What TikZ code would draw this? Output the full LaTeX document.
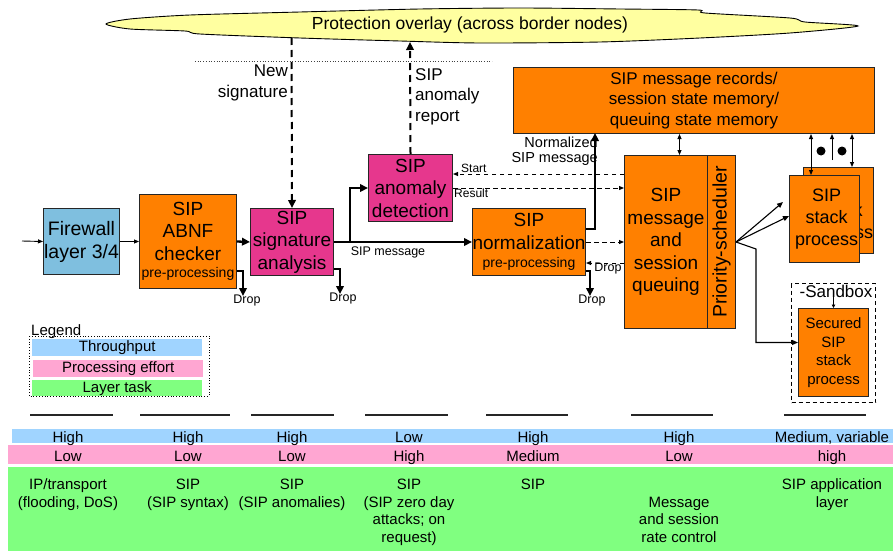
\documentclass[tikz,border=0pt]{standalone}
\usepackage{fontspec}
\setmainfont{Liberation Sans}
\usetikzlibrary{arrows.meta,calc}
\definecolor{orng}{HTML}{FF8000}
\definecolor{mag}{HTML}{E6378D}
\definecolor{fwblue}{HTML}{7FBFDF}
\definecolor{cloudy}{HTML}{FFFFA0}
\definecolor{tblue}{HTML}{A0D4FF}
\definecolor{tpink}{HTML}{FFA6D2}
\definecolor{tgreen}{HTML}{80FF80}
\newcommand\fA{\fontsize{19}{22.5}\selectfont}
\newcommand\fMem{\fontsize{17}{20.5}\selectfont}
\newcommand\fSt{\fontsize{18}{22}\selectfont}
\newcommand\fSec{\fontsize{15}{18.5}\selectfont}
\newcommand\fPre{\fontsize{14}{16}\selectfont}
\newcommand\fLab{\fontsize{17}{20.5}\selectfont}
\newcommand\fTab{\fontsize{15}{17.6}\selectfont}
\newcommand\fDrop{\fontsize{12.5}{14}\selectfont}
\newcommand\fTiny{\fontsize{12}{13}\selectfont}
\newcommand\fNorm{\fontsize{14.5}{15.5}\selectfont}
\newcommand\fCloud{\fontsize{17.5}{20}\selectfont}
\newcommand\fLeg{\fontsize{15}{17}\selectfont}
\begin{document}
\begin{tikzpicture}[x=1pt,y=-1pt,
  box/.style={draw=black!85, line width=1pt, inner sep=0pt, align=center, anchor=north west, font=\fA},
  thinarr/.style={line width=0.9pt, -{Triangle[length=5pt,width=4pt]}},
  medarr/.style={line width=1.1pt, -{Triangle[length=6pt,width=5pt]}},
  thickarr/.style={line width=2.3pt, -{Triangle[length=8pt,width=7.5pt]}},
  bigdash/.style={line width=2pt, dash pattern=on 7pt off 5pt},
  smalldash/.style={line width=1pt, dash pattern=on 4.5pt off 3.5pt, -{Triangle[length=5pt,width=4pt]}},
  txt/.style={inner sep=0pt, align=center}]
\useasboundingbox (0,0) rectangle (893,551);

% ---------- cloud ----------
\draw[fill=cloudy, line width=0.9pt, tension=0.45] plot[smooth cycle] coordinates {
 (106,24) (130,19) (190,15) (300,12) (420,9) (520,8) (620,9) (698,10) (705,13)
 (790,18) (805,22) (858,26) (790,33) (700,38) (600,42) (480,43) (400,41)
 (300,38) (200,34) (185,31) (130,29)};
\node[txt, font=\fCloud] (overlay) at (470,25) {Protection overlay (across border nodes)};
\coordinate (ovA) at (291.5,38);
\coordinate (ovB) at (410,42);
\coordinate (dotL) at (195,61);
\coordinate (dotR) at (492,61);
\draw[dotted, line width=0.7pt, black!75] (dotL) -- (dotR);

% ---------- boxes ----------
\node[box, fill=fwblue, minimum width=76pt, minimum height=66pt, font=\fontsize{19.5}{23}\selectfont] (fw) at (43,208) {Firewall\\layer 3/4};
\node[box, fill=orng, minimum width=97pt, minimum height=94pt] (abnf) at (139,194)
  {SIP\\ABNF\\checker\\[-5pt]{\fPre pre-processing}};
\node[box, fill=mag, minimum width=83pt, minimum height=67pt] (sig) at (250,208) {SIP\\signature\\analysis};
\node[box, fill=mag, minimum width=84pt, minimum height=67pt] (anom) at (368,154) {SIP\\anomaly\\detection};
\node[box, fill=orng, minimum width=110pt, minimum height=67pt] (norm) at (472,208)
  {SIP\\normalization\\[-4pt]{\fPre pre-processing}};
\node[box, fill=orng, minimum width=361pt, minimum height=66pt, font=\fMem] (mem) at (513,67)
  {SIP message records/\\session state memory/\\queuing state memory};
\node[box, fill=orng, minimum width=83pt, minimum height=173pt] (queue) at (624,155)
  {SIP\\message\\and\\session\\queuing};
\node[box, fill=orng, minimum width=28pt, minimum height=173pt] (sched) at (707,155) {};
\node[txt, rotate=90, font=\fontsize{19.5}{22}\selectfont] (schedt) at (sched.center) {Priority-scheduler};
\node[box, fill=orng, minimum width=70pt, minimum height=86pt, font=\fSt, text depth=0pt] (stackB) at (803,167)
  {\hspace*{6pt}SIP\\\hspace*{6pt}stack\\\hspace*{6pt}process};
\node[box, fill=orng, minimum width=70pt, minimum height=87pt, font=\fSt] (stackF) at (789,175)
  {\hspace*{4pt}SIP\\\hspace*{4pt}stack\\\hspace*{4pt}process};
\node[box, draw=black, fill=none, line width=1.2pt, dash pattern=on 4pt off 3pt,
  minimum width=84pt, minimum height=119pt] (sandbox) at (791,283) {};
\node[txt, font=\fLab] (sbl) at (836,291) {-Sandbox};
\node[box, fill=orng, minimum width=70pt, minimum height=88pt, font=\fSec] (secured) at (798,308)
  {Secured\\SIP\\stack\\process};

% ---------- connectors ----------
\coordinate (inL) at (22,241);
\draw[thinarr] (inL) -- (fw.west);
\draw[thinarr] (fw.east) -- (abnf.west);
\draw[thickarr] (abnf.east) -- (sig.west);
\draw[thickarr] (sig.east) -- (norm.west);
\node[txt, font=\fDrop] (sipmsg) at (388,252) {SIP message};
\coordinate (br) at (350,241.5);
\draw[thickarr] (br) |- (anom.west);

% drops
\coordinate (drop1) at (243,296);
\draw[thickarr] ($(abnf.south east)+(0,-18)$) -| (drop1);
\node[txt, font=\fDrop, anchor=north] (drop1l) at (247,295) {Drop};
\coordinate (drop2) at (340,294);
\draw[thickarr] ($(sig.south east)+(0,-7)$) -| (drop2);
\node[txt, font=\fDrop, anchor=north] (drop2l) at (343,293) {Drop};
\coordinate (drop3) at (590,296);
\draw[thickarr] ($(norm.south east)+(0,-5)$) -| (drop3);
\node[txt, font=\fDrop, anchor=north] (drop3l) at (592,295) {Drop};

% overlay links
\draw[bigdash, -{Triangle[length=8pt,width=7.5pt]}] (ovA) -- (sig.north);
\node[txt, font=\fLab, align=right, anchor=north east] (newsig) at (288,65) {New\\signature};
\draw[bigdash, -{Triangle[length=8pt,width=7.5pt]}] (anom.north) -- (ovB);
\node[txt, font=\fLab, align=left, anchor=north west] (anrep) at (415,68) {SIP\\anomaly\\report};

% normalized message to memory
\coordinate (nm) at (595,133);
\draw[thickarr] ($(norm.east)+(0,-13)$) -| (nm);
\node[txt, font=\fNorm, align=right, anchor=east] (nmsg) at (598,151) {Normalized\\SIP message};

% start / result
\coordinate (st) at ($(queue.north west)+(0,19)$);
\draw[smalldash] (st) -- (st -| anom.east);
\node[txt, font=\fTiny, anchor=south west] (startl) at (461,173) {Start};
\draw[smalldash] (anom.east) -- (anom.east -| queue.west);
\node[txt, font=\fTiny, anchor=north west] (resultl) at (454,189) {Result};
\draw[smalldash] (norm.east) -- (norm.east -| queue.west);
\coordinate (qd) at ($(queue.west)+(0,21)$);
\draw[smalldash] (qd) -- (qd -| norm.east);
\node[txt, font=\fDrop] (drop4l) at (608,268) {Drop};

% memory links
\coordinate (mq) at ($(queue.north)+(13.5,0)$);
\draw[line width=0.9pt, {Triangle[length=5pt,width=4pt]}-{Triangle[length=5pt,width=4pt]}] (mq) -- (mq |- mem.south);
\coordinate (ms1) at (811,175);
\draw[line width=0.9pt, {Triangle[length=5pt,width=4pt]}-{Triangle[length=5pt,width=4pt]}] (ms1 |- mem.south) -- (ms1);
\coordinate (ms2) at (832,160);
\draw[thinarr] (ms2) -- (ms2 |- mem.south);
\coordinate (ms3) at (852,167);
\draw[line width=0.9pt, {Triangle[length=5pt,width=4pt]}-{Triangle[length=5pt,width=4pt]}] (ms3 |- mem.south) -- (ms3);
\fill (821,151) circle (4.5pt);
\fill (842,151) circle (4.5pt);

% scheduler links
\coordinate (sa1) at (783,202);
\draw[medarr] (sched.east) -- (sa1);
\draw[medarr] (sched.east) -- ($(stackF.west)+(0,-3)$);
\draw[medarr] (sched.east) -- ++(20,7) |- ($(secured.west)+(0,-10)$);
\draw[line width=0.8pt, -{Triangle[length=3.5pt,width=3.5pt]}] (sbl.south -| secured.north) -- (secured.north);

% ---------- legend ----------
\draw[dotted, line width=0.8pt] (29,336) rectangle (209,396);
\node[txt, font=\fLeg, anchor=base west] (legend) at (31,335) {Legend};
\node[fill=tblue, minimum width=170pt, minimum height=17pt, anchor=north west, inner sep=0pt, font=\fLeg] (lgT) at (32,339) {Throughput};
\node[fill=tpink, minimum width=170pt, minimum height=17pt, anchor=north west, inner sep=0pt, font=\fLeg] (lgP) at (33,360) {Processing effort};
\node[fill=tgreen, minimum width=170pt, minimum height=16pt, anchor=north west, inner sep=0pt, font=\fLeg] (lgL) at (32,380) {Layer task};

% ---------- separators ----------
\foreach \a/\b in {30/113, 140/230, 251/334, 365/448, 486/568, 631/713, 784/866}
  \draw[line width=1.2pt, black!85] (\a,415) -- (\b,415);

% ---------- table ----------
\fill[tblue] (12,429) rectangle (893,443);
\fill[tpink] (8,445) rectangle (893,464);
\fill[tgreen] (8,467) rectangle (893,551);

\foreach \n/\x/\t in {1/68/High, 2/188/High, 3/292/High, 4/409/Low, 5/533/High, 6/679/High, 7/832/{Medium, variable}}
  \node[txt, font=\fTab, anchor=base] (tp\n) at (\x,442.5) {\t};
\foreach \n/\x/\t in {1/68/Low, 2/188/Low, 3/292/Low, 4/409/High, 5/533/Medium, 6/679/Low, 7/832/high}
  \node[txt, font=\fTab, anchor=base] (pe\n) at (\x,461) {\t};

% multi-line nodes: base anchor = baseline of the last line
\node[txt, font=\fTab, anchor=base] (lt1) at (68,507) {IP/transport\\(flooding, DoS)};
\node[txt, font=\fTab, anchor=base] (lt2) at (188,507) {SIP\\(SIP syntax)};
\node[txt, font=\fTab, anchor=base] (lt3) at (292,507) {SIP\\(SIP anomalies)};
\node[txt, font=\fTab, anchor=base] (lt4) at (409,542.2) {SIP\\(SIP zero day\\attacks; on\\request)};
\node[txt, font=\fTab, anchor=base] (lt5) at (533,489.4) {SIP};
\node[txt, font=\fTab, anchor=base] (lt6) at (679,542.2) {Message\\and session\\rate control};
\node[txt, font=\fTab, anchor=base] (lt7) at (832,507) {SIP application\\layer};
\end{tikzpicture}
\end{document}
